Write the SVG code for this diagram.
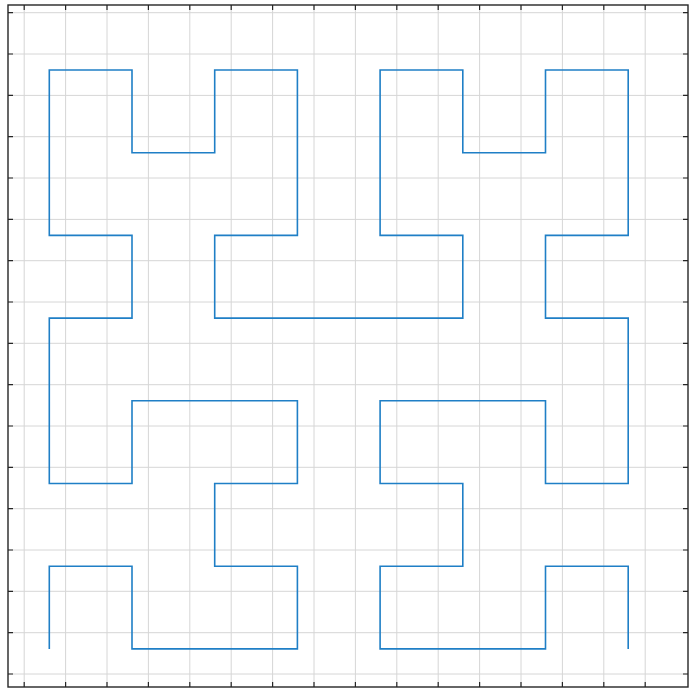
<svg xmlns="http://www.w3.org/2000/svg" width="689" height="690" viewBox="0 0 689 690">
<style>
.grid line{stroke:#d6d6d6;stroke-width:1}
.curve{fill:none;stroke:#1f7fc6;stroke-width:1.6;stroke-linejoin:miter}
.axis{fill:none;stroke:#262626;stroke-width:1.4}
</style>
<rect x="0" y="0" width="689" height="690" fill="#ffffff"/>
<g class="grid" id="grid">
<line x1="24.2" y1="5" x2="24.2" y2="687"/>
<line x1="65.6" y1="5" x2="65.6" y2="687"/>
<line x1="107" y1="5" x2="107" y2="687"/>
<line x1="148.4" y1="5" x2="148.4" y2="687"/>
<line x1="189.8" y1="5" x2="189.8" y2="687"/>
<line x1="231.2" y1="5" x2="231.2" y2="687"/>
<line x1="272.6" y1="5" x2="272.6" y2="687"/>
<line x1="314" y1="5" x2="314" y2="687"/>
<line x1="355.4" y1="5" x2="355.4" y2="687"/>
<line x1="396.8" y1="5" x2="396.8" y2="687"/>
<line x1="438.2" y1="5" x2="438.2" y2="687"/>
<line x1="479.6" y1="5" x2="479.6" y2="687"/>
<line x1="521" y1="5" x2="521" y2="687"/>
<line x1="562.4" y1="5" x2="562.4" y2="687"/>
<line x1="603.8" y1="5" x2="603.8" y2="687"/>
<line x1="645.2" y1="5" x2="645.2" y2="687"/>
<line x1="8" y1="12.7" x2="688" y2="12.7"/>
<line x1="8" y1="54" x2="688" y2="54"/>
<line x1="8" y1="95.4" x2="688" y2="95.4"/>
<line x1="8" y1="136.7" x2="688" y2="136.7"/>
<line x1="8" y1="178" x2="688" y2="178"/>
<line x1="8" y1="219.4" x2="688" y2="219.4"/>
<line x1="8" y1="260.7" x2="688" y2="260.7"/>
<line x1="8" y1="302" x2="688" y2="302"/>
<line x1="8" y1="343.3" x2="688" y2="343.3"/>
<line x1="8" y1="384.7" x2="688" y2="384.7"/>
<line x1="8" y1="426" x2="688" y2="426"/>
<line x1="8" y1="467.3" x2="688" y2="467.3"/>
<line x1="8" y1="508.7" x2="688" y2="508.7"/>
<line x1="8" y1="550" x2="688" y2="550"/>
<line x1="8" y1="591.3" x2="688" y2="591.3"/>
<line x1="8" y1="632.7" x2="688" y2="632.7"/>
<line x1="8" y1="674" x2="688" y2="674"/>
</g>
<g id="ticks" fill="none" stroke="#262626" stroke-width="1.2">
<path d="M24.2 5v5M65.6 5v5M107 5v5M148.4 5v5M189.8 5v5M231.2 5v5M272.6 5v5M314 5v5M355.4 5v5M396.8 5v5M438.2 5v5M479.6 5v5M521 5v5M562.4 5v5M603.8 5v5M645.2 5v5"/>
<path d="M24.2 687v-5M65.6 687v-5M107 687v-5M148.4 687v-5M189.8 687v-5M231.2 687v-5M272.6 687v-5M314 687v-5M355.4 687v-5M396.8 687v-5M438.2 687v-5M479.6 687v-5M521 687v-5M562.4 687v-5M603.8 687v-5M645.2 687v-5"/>
<path d="M8 12.7h5M8 54h5M8 95.4h5M8 136.7h5M8 178h5M8 219.4h5M8 260.7h5M8 302h5M8 343.3h5M8 384.7h5M8 426h5M8 467.3h5M8 508.7h5M8 550h5M8 591.3h5M8 632.7h5M8 674h5"/>
<path d="M688 12.7h-5M688 54h-5M688 95.4h-5M688 136.7h-5M688 178h-5M688 219.4h-5M688 260.7h-5M688 302h-5M688 343.3h-5M688 384.7h-5M688 426h-5M688 467.3h-5M688 508.7h-5M688 550h-5M688 591.3h-5M688 632.7h-5M688 674h-5"/>
</g>
<g id="curve">
<path class="curve" d="M49.3 648.9 V566.2 H132 V648.9 H297.4 V566.2 H214.7 V483.5 H297.4 V400.8 H132 V483.5 H49.3 V318.1 H132 V235.4 H49.3 V70 H132 V152.7 H214.7 V70 H297.4 V235.4 H214.7 V318.1 H462.8 V235.4 H380.1 V70 H462.8 V152.7 H545.5 V70 H628.2 V235.4 H545.5 V318.1 H628.2 V483.5 H545.5 V400.8 H380.1 V483.5 H462.8 V566.2 H380.1 V648.9 H545.5 V566.2 H628.2 V648.9"/>
</g>
<rect class="axis" x="8" y="5" width="680" height="682"/>
</svg>
